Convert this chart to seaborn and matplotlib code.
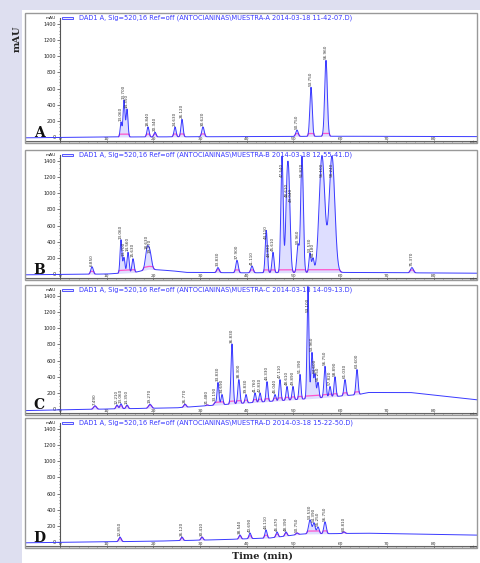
import numpy as np
import pandas as pd
import matplotlib
matplotlib.use("Agg")
import matplotlib.pyplot as plt
import seaborn as sns
from matplotlib.patches import Rectangle

# peak retention times (min), apex heights (mAU) and widths (sigma, min)
rt_a = [13.06, 13.70, 14.35, 18.84, 20.34, 24.63, 26.12, 30.62, 50.75, 53.75, 56.96]
top_a = [185, 457, 345, 125, 60, 125, 220, 125, 86, 617, 950]
wid_a = [0.18, 0.2, 0.2, 0.22, 0.22, 0.22, 0.22, 0.25, 0.25, 0.25, 0.28]

rt_b = [6.85, 13.06, 13.70, 14.56, 15.63, 18.63, 19.27, 33.83, 37.90, 41.11, 44.11, 44.33,
        45.61, 47.54, 48.61, 49.04, 50.96, 51.82, 53.53, 54.18, 56.10, 58.24, 75.37]
top_b = [90, 425, 205, 270, 190, 300, 250, 80, 170, 100, 425, 200,
         270, 1460, 940, 880, 360, 1460, 260, 190, 1460, 1460, 80]
wid_b = [0.25, 0.2, 0.2, 0.22, 0.22, 0.35, 0.35, 0.25, 0.25, 0.25, 0.2, 0.2,
         0.22, 0.25, 0.3, 0.3, 0.25, 0.28, 0.22, 0.22, 0.6, 0.6, 0.3]

rt_c = [7.49, 12.21, 13.06, 14.35, 19.27, 26.77, 31.48, 33.19, 33.83, 34.69, 36.83, 38.30,
        39.83, 41.76, 42.83, 44.33, 46.04, 47.11, 48.61, 49.89, 51.39, 53.10, 53.96,
        54.60, 55.25, 56.75, 57.82, 58.89, 61.03, 63.60]
top_c = [40, 50, 65, 50, 60, 60, 50, 80, 330, 180, 807, 365,
         180, 200, 200, 340, 180, 365, 280, 280, 430, 1520, 700,
         430, 330, 530, 280, 400, 365, 490]
wid_c = [0.3, 0.22, 0.22, 0.22, 0.3, 0.25, 0.22, 0.2, 0.2, 0.2, 0.22, 0.22,
         0.2, 0.2, 0.2, 0.2, 0.2, 0.2, 0.2, 0.2, 0.2, 0.2, 0.22,
         0.2, 0.2, 0.22, 0.2, 0.2, 0.22, 0.22]

rt_d = [12.85, 26.12, 30.41, 38.54, 40.69, 44.11, 46.47, 48.39, 50.75, 53.53, 54.39,
        55.25, 56.75, 60.81]
top_d = [62, 62, 62, 87, 112, 150, 125, 125, 112, 275, 237, 187, 250, 125]
wid_d = [0.25, 0.22, 0.22, 0.22, 0.22, 0.22, 0.22, 0.22, 0.25, 0.3, 0.25, 0.25, 0.25, 0.25]

# baseline drift (min, mAU)
base_t_a = [-8, 10, 40, 60, 90]
base_y_a = [-10, 0, 5, 10, 5]
base_t_b = [-8, 10, 16, 19, 24, 27, 40, 60, 90]
base_y_b = [-10, 0, 20, 60, 40, 20, 15, 20, 10]
base_t_c = [-8, 10, 25, 40, 55, 64, 66, 75, 90]
base_y_c = [-20, 0, 15, 75, 135, 180, 205, 205, 110]
base_t_d = [-8, 20, 35, 45, 52, 60, 65, 90]
base_y_d = [-10, 10, 30, 50, 100, 105, 110, 85]

panel_letters = ["A", "B", "C", "D"]
y_ticks = [0, 200, 400, 600, 800, 1000, 1200, 1400]
x_ticks = [0, 10, 20, 30, 40, 50, 60, 70, 80]
headers = [
    "DAD1 A, Sig=520,16 Ref=off (ANTOCIANINAS\\MUESTRA-A 2014-03-18 11-42-07.D)",
    "DAD1 A, Sig=520,16 Ref=off (ANTOCIANINAS\\MUESTRA-B 2014-03-18 12-55-41.D)",
    "DAD1 A, Sig=520,16 Ref=off (ANTOCIANINAS\\MUESTRA-C 2014-03-18 14-09-13.D)",
    "DAD1 A, Sig=520,16 Ref=off (ANTOCIANINAS\\MUESTRA-D 2014-03-18 15-22-50.D)",
]

panels = [
    (rt_a, top_a, wid_a, base_t_a, base_y_a),
    (rt_b, top_b, wid_b, base_t_b, base_y_b),
    (rt_c, top_c, wid_c, base_t_c, base_y_c),
    (rt_d, top_d, wid_d, base_t_d, base_y_d),
]

sns.set_theme(style="white")
plt.rcParams["font.family"] = ["DejaVu Sans"]

fig = plt.figure(figsize=(4.8, 5.63), dpi=100)
fig.patch.set_facecolor("#dedff0")
fig.add_artist(Rectangle((22 / 480, 0), 1, 1 - 10 / 563, transform=fig.transFigure,
                         facecolor="white", edgecolor="none", zorder=-10))

tgrid = np.linspace(-7.5, 89.3, 6000)
ylo, yhi = -74, 1537
tops_px = [13, 150, 285, 418]

for i, (rts, tops, wids, bt, by) in enumerate(panels):
    bottom = 1 - (tops_px[i] + 130) / 563
    ax = fig.add_axes([25 / 480, bottom, 452 / 480, 130 / 563])
    ax.set_zorder(1)
    ax.set_facecolor("white")

    base = np.interp(tgrid, bt, by)
    peaks = np.zeros_like(tgrid)
    for rt, top, w in zip(rts, tops, wids):
        amp = top - np.interp(rt, bt, by)
        peaks += amp * np.exp(-0.5 * ((tgrid - rt) / w) ** 2)
    signal = base + peaks
    df = pd.DataFrame({"time": tgrid, "mAU": signal})

    ax.fill_between(tgrid, base, signal, color="#c8c8ff", alpha=0.6, lw=0)
    pink = np.where(peaks > 3, base + np.minimum(peaks, 35), np.nan)
    ax.plot(tgrid, pink, color="#ff55cc", lw=0.9, zorder=2)
    sns.lineplot(data=df, x="time", y="mAU", ax=ax, color="#3a3aff", lw=0.7,
                 estimator=None, zorder=3)

    prev_rt = None
    for rt, top in zip(rts, tops):
        # nudge a label sideways when it sits right on top of its neighbour
        dx = 0.45 if prev_rt is not None and rt - prev_rt < 0.5 else 0
        prev_rt = rt
        if top > 1250:
            ax.text(rt, 1380, f"{rt:.3f}", rotation=90, fontsize=3, color="#333333",
                    ha="center", va="top", zorder=4)
        else:
            ax.text(rt + dx, top + 15, f"{rt:.3f}", rotation=90, fontsize=3, color="#333333",
                    ha="center", va="bottom", zorder=4)

    ax.set_xlim(-7.5, 89.3)
    ax.set_ylim(ylo, yhi)
    ax.set_xlabel("")
    ax.set_ylabel("")

    for s in ["top", "right", "bottom"]:
        ax.spines[s].set_visible(False)
    ax.spines["left"].set_position(("data", 0))
    ax.spines["left"].set_bounds(ylo + 20, 1480)
    ax.spines["left"].set_color("#555555")
    ax.spines["left"].set_linewidth(0.8)
    ax.axhline(ylo + 20, color="#666666", lw=0.8, zorder=1)
    ax.add_patch(Rectangle((0, 0), 1, 1, transform=ax.transAxes, fill=False,
                           edgecolor="#999999", lw=1.0, clip_on=False, zorder=5))
    ax.add_patch(Rectangle((0, 0), 1, 20 / (yhi - ylo), transform=ax.transAxes,
                           facecolor="#dcdcdc", edgecolor="none", zorder=0))

    ax.set_yticks(y_ticks)
    ax.set_yticks(np.arange(0, 1480, 40), minor=True)
    ax.set_yticklabels([str(v) for v in y_ticks])
    ax.tick_params(axis="y", which="major", left=True, length=2, width=0.5,
                   labelsize=3.5, pad=1, color="#444444", labelcolor="#222222")
    ax.tick_params(axis="y", which="minor", left=True, length=1, width=0.4, color="#444444")
    ax.set_xticks(x_ticks)
    ax.set_xticks(np.arange(0, 89, 2), minor=True)
    ax.set_xticklabels([str(v) for v in x_ticks])
    ax.tick_params(axis="x", which="major", bottom=True, direction="in", length=2, width=0.5,
                   labelsize=3.2, pad=-4, color="#444444", labelcolor="#333333")
    ax.tick_params(axis="x", which="minor", bottom=True, direction="in", length=1,
                   width=0.4, color="#444444")
    ax.text(88.6, ylo + 8, "min", fontsize=3.2, ha="center", va="center", color="#333333")

    ax.text(-0.8, 1470, "mAU", fontsize=3.2, ha="right", va="center", color="#222222")
    ax.add_patch(Rectangle((0.082, 0.955), 0.024, 0.018, transform=ax.transAxes,
                           facecolor="#e8e8ff", edgecolor="#3a3aff", lw=0.6, zorder=5))
    ax.text(0.12, 0.964, headers[i], transform=ax.transAxes, fontsize=4.8,
            color="#3a3aff", ha="left", va="center")
    ax.text(0.031, 0.075, panel_letters[i], transform=ax.transAxes, fontsize=10,
            fontweight="bold", family="DejaVu Serif", ha="center", va="center", color="#111111")

fig.text(0.035, 0.932, "mAU", rotation=90, fontsize=7, fontweight="bold",
         family="DejaVu Serif", ha="center", va="center", color="#222222")
fig.text(0.546, 0.012, "Time (min)", fontsize=7, fontweight="bold",
         family="DejaVu Serif", ha="center", va="center", color="#222222")

fig.savefig("out.png", dpi=100, facecolor=fig.get_facecolor())
